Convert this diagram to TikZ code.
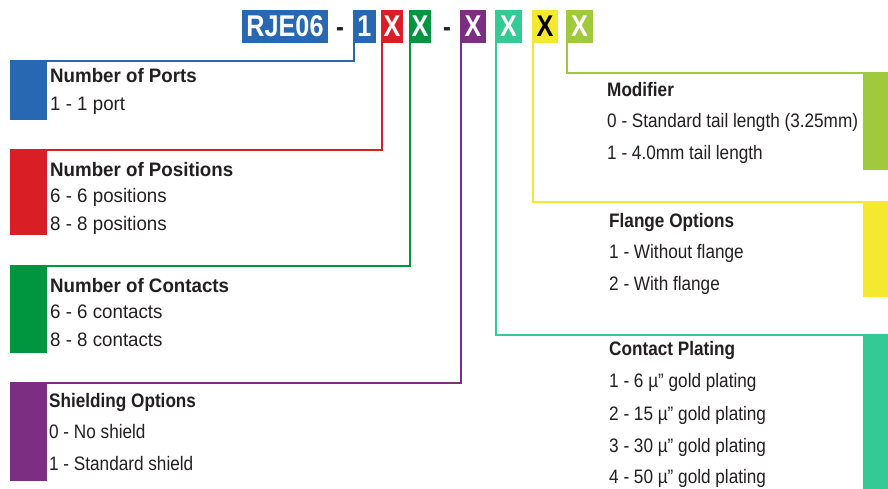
\documentclass[tikz,border=0pt]{standalone}
\usepackage{fontspec}
\setmainfont{Liberation Sans}
\newfontfamily\wideface{Liberation Sans}[FakeStretch=0.96]
\newfontfamily\narrowface{Liberation Sans}[FakeStretch=0.88]
\newfontfamily\codeface{Liberation Sans}[FakeStretch=0.84]
\usetikzlibrary{positioning}
\definecolor{rjblue}{RGB}{40,104,178}
\definecolor{rjred}{RGB}{218,30,38}
\definecolor{rjgreen}{RGB}{0,150,64}
\definecolor{rjpurple}{RGB}{124,46,130}
\definecolor{rjteal}{RGB}{52,202,150}
\definecolor{rjyellow}{RGB}{245,233,48}
\definecolor{rjlime}{RGB}{160,202,60}
\definecolor{rjtext}{RGB}{35,31,32}

\begin{document}
\begin{tikzpicture}[x=1pt, y=-1pt,
  code/.style={fill=#1, text=white, inner sep=0pt, minimum height=33pt,
               font=\codeface\bfseries\fontsize{30}{30}\selectfont},
  sep/.style={inner sep=0pt, anchor=base, text=rjtext,
              font=\codeface\bfseries\fontsize{28}{28}\selectfont},
  bar/.style={fill=#1, inner sep=0pt, anchor=north west},
  link/.style={draw=#1, line width=1.8pt},
  whead/.style={anchor=base west, inner sep=0pt, text=rjtext,
                font=\wideface\bfseries\fontsize{19.5}{22}\selectfont},
  witem/.style={anchor=base west, inner sep=0pt, text=rjtext,
                font=\wideface\fontsize{19.5}{22}\selectfont},
  nhead/.style={anchor=base west, inner sep=0pt, text=rjtext,
                font=\narrowface\bfseries\fontsize{19.5}{22}\selectfont},
  nitem/.style={anchor=base west, inner sep=0pt, text=rjtext,
                font=\narrowface\fontsize{19.5}{22}\selectfont}
]
\useasboundingbox (0,0) rectangle (888,489);

% part number
\node[code=rjblue, minimum width=86pt] (code) at (285,26.5) {RJE06};
\node[sep] (dash1) at (340,37) {-};
\node[code=rjblue, minimum width=23pt] (one) at (364.5,26.5) {1};
\node[code=rjred, minimum width=22pt] (pos) at (392,26.5) {X};
\node[code=rjgreen, minimum width=22pt] (con) at (420,26.5) {X};
\node[sep] (dash2) at (447,37) {-};
\node[code=rjpurple, minimum width=26pt] (shd) at (473,26.5) {X};
\node[code=rjteal, minimum width=27pt] (plt) at (508.5,26.5) {X};
\node[code=rjyellow, minimum width=26pt, text=black] (flg) at (545,26.5) {X};
\node[code=rjlime, minimum width=27pt] (mod) at (579.5,26.5) {X};

% colour bars
\node[bar=rjblue, minimum width=37pt, minimum height=59pt] (portsbar) at (10,61) {};
\node[bar=rjred, minimum width=37pt, minimum height=85pt] (posbar) at (10,150) {};
\node[bar=rjgreen, minimum width=37pt, minimum height=87pt] (conbar) at (10,266) {};
\node[bar=rjpurple, minimum width=37pt, minimum height=98pt] (shdbar) at (10,383) {};
\node[bar=rjlime, minimum width=25pt, minimum height=97pt] (modbar) at (863,73) {};
\node[bar=rjyellow, minimum width=25pt, minimum height=95pt] (flgbar) at (863,202) {};
\node[bar=rjteal, minimum width=25pt, minimum height=154pt] (pltbar) at (863,335) {};

% leader lines
\draw[link=rjblue] ([xshift=1.5pt]one.south west) |- (portsbar.north west);
\draw[link=rjred] ([xshift=1.5pt]pos.south west) |- (posbar.north west);
\draw[link=rjgreen] ([xshift=1.5pt]con.south west) |- (conbar.north west);
\draw[link=rjpurple] ([xshift=1.5pt]shd.south west) |- (shdbar.north west);
\draw[link=rjteal] ([xshift=1.5pt]plt.south west) |- (pltbar.north east);
\draw[link=rjyellow] ([xshift=1.5pt]flg.south west) |- (flgbar.north east);
\draw[link=rjlime] ([xshift=1.5pt]mod.south west) |- (modbar.north east);

% left texts
\node[whead] (portshead) at (50,83) {Number of Ports};
\node[witem] (ports1) at (50,111) {1 - 1 port};

\node[whead] (poshead) at (50,177) {Number of Positions};
\node[witem] (pos6) at (50,203) {6 - 6 positions};
\node[witem] (pos8) at (50,230) {8 - 8 positions};

\node[whead] (conhead) at (50,292) {Number of Contacts};
\node[witem] (con6) at (50,318) {6 - 6 contacts};
\node[witem] (con8) at (50,346) {8 - 8 contacts};

\node[nhead] (shdhead) at (49,407) {Shielding Options};
\node[nitem] (shd0) at (49,438) {0 - No shield};
\node[nitem] (shd1) at (49,470) {1 - Standard shield};

% right texts
\node[nhead] (modhead) at (607,97) {Modifier};
\node[nitem] (mod0) at (607,128) {0 - Standard tail length (3.25mm)};
\node[nitem] (mod1) at (607,160) {1 - 4.0mm tail length};

\node[nhead] (flghead) at (609,227) {Flange Options};
\node[nitem] (flg1) at (609,258) {1 - Without flange};
\node[nitem] (flg2) at (609,290) {2 - With flange};

\node[nhead] (plthead) at (609,355) {Contact Plating};
\node[nitem] (plt1) at (609,387) {1 - 6 µ” gold plating};
\node[nitem] (plt2) at (609,420) {2 - 15 µ” gold plating};
\node[nitem] (plt3) at (609,452) {3 - 30 µ” gold plating};
\node[nitem] (plt4) at (609,483) {4 - 50 µ” gold plating};
\end{tikzpicture}
\end{document}
